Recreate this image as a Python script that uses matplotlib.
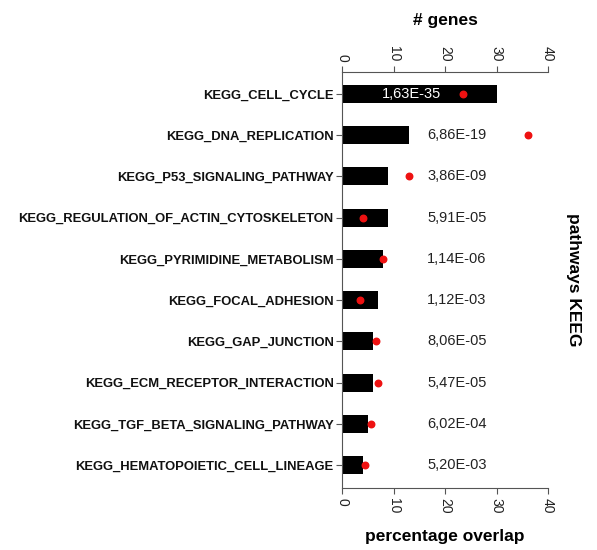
import numpy as np
import matplotlib.pyplot as plt

plt.rcParams['font.family'] = ['Liberation Sans', 'DejaVu Sans']

pathways = ['KEGG_CELL_CYCLE', 'KEGG_DNA_REPLICATION', 'KEGG_P53_SIGNALING_PATHWAY',
            'KEGG_REGULATION_OF_ACTIN_CYTOSKELETON', 'KEGG_PYRIMIDINE_METABOLISM',
            'KEGG_FOCAL_ADHESION', 'KEGG_GAP_JUNCTION', 'KEGG_ECM_RECEPTOR_INTERACTION',
            'KEGG_TGF_BETA_SIGNALING_PATHWAY', 'KEGG_HEMATOPOIETIC_CELL_LINEAGE']
n_genes = [30, 13, 9, 9, 8, 7, 6, 6, 5, 4]
overlap = [23.4, 36.1, 12.9, 4.1, 8.0, 3.4, 6.6, 7.0, 5.7, 4.5]
pvalues = ['1,63E-35', '6,86E-19', '3,86E-09', '5,91E-05', '1,14E-06',
           '1,12E-03', '8,06E-05', '5,47E-05', '6,02E-04', '5,20E-03']

grey = '#555555'
fig = plt.figure(figsize=(5.97, 5.5), dpi=100)
ax = fig.add_axes([0.573, 0.113, 0.345, 0.756])

y = np.arange(len(pathways))
ax.barh(y, n_genes, height=0.44, color='black')
ax.scatter(overlap, y, color='#ee1111', s=22, zorder=3)

for i, p in enumerate(pvalues):
    if i == 0:
        ax.text(13.5, y[i], p, color='white', ha='center', va='center', fontsize=10.5)
    else:
        ax.text(22.3, y[i], p, color='#222222', ha='center', va='center', fontsize=10.5)

ax.set_xlim(0, 40)
ax.set_ylim(len(pathways) - 0.45, -0.53)
ax.set_yticks(y)
ax.set_yticklabels(pathways, fontsize=9.4, fontweight='bold')
ax.set_xticks([0, 10, 20, 30, 40])
ax.tick_params(axis='x', top=True, labeltop=True, rotation=-90, labelsize=10,
               colors=grey, labelcolor='#222222', length=4)
ax.tick_params(axis='y', colors=grey, labelcolor='#111111', length=4, pad=2)

ax.spines['right'].set_visible(False)
for s in ['left', 'top', 'bottom']:
    ax.spines[s].set_color(grey)

ax.set_xlabel('percentage overlap', fontsize=12.5, fontweight='bold', labelpad=11)
ax.set_title('# genes', fontsize=12.5, fontweight='bold', pad=34)
ax.text(1.125, 0.5, 'pathways KEEG', transform=ax.transAxes, rotation=-90,
        ha='center', va='center', fontsize=12.5, fontweight='bold')

fig.savefig('out.png', dpi=100)
